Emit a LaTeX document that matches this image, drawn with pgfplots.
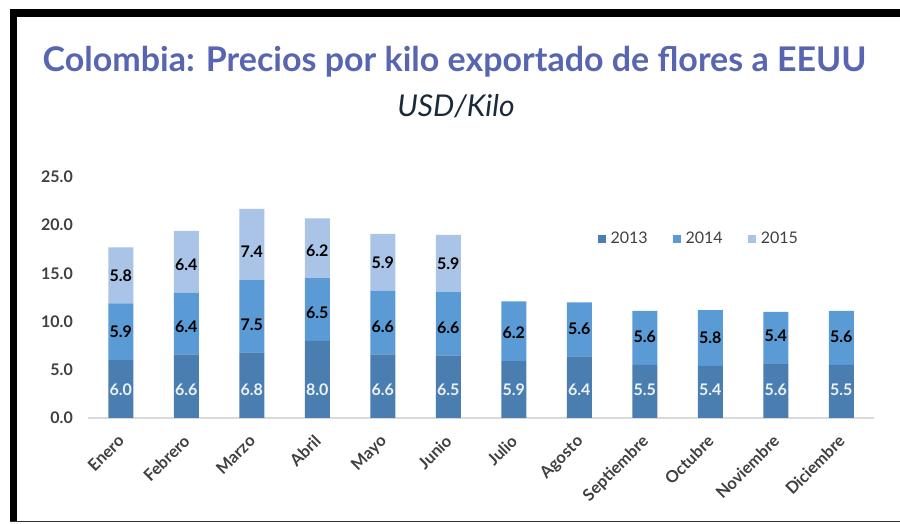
\documentclass[border=0pt]{standalone}
\usepackage{fontspec}
\setmainfont{Lato}
\usepackage{pgfplots}
\pgfplotsset{compat=1.18}
\usepackage{pgfplotstable}
\definecolor{c13}{HTML}{4A7EB0}
\definecolor{c14}{HTML}{5B9BD5}
\definecolor{c15}{HTML}{A9C4E6}
\definecolor{titlec}{HTML}{5865B0}
\definecolor{subc}{HTML}{1B2A3A}
\definecolor{tickc}{HTML}{404040}

\pgfplotstableread{
x v13 v14
0 6.0 5.9
1 6.6 6.4
2 6.8 7.5
3 8.0 6.5
4 6.6 6.6
5 6.5 6.6
6 5.9 6.2
7 6.4 5.6
8 5.5 5.6
9 5.4 5.8
10 5.6 5.4
11 5.5 5.6
}\datatable
\pgfplotstableread{
x v15
0 5.8
1 6.4
2 7.4
3 6.2
4 5.9
5 5.9
}\datatablefifteen

\begin{document}
\begin{tikzpicture}[x=1pt,y=1pt]
\useasboundingbox (0,0) rectangle (900,524);
\fill[white] (0,0) rectangle (900,524);
\fill[black] (10,507) rectangle (900,515);
\fill[black] (10,2) rectangle (17,515);
\draw[black!80, line width=1.5pt] (10,2.3) -- (900,2.3);
\node[anchor=base, inner sep=0pt, font=\fontsize{34}{40}\selectfont\bfseries, text=titlec] at (454.5,452) {Colombia: Precios por kilo exportado de flores a EEUU};
\node[anchor=base, inner sep=0pt, font=\fontsize{30}{34}\selectfont\itshape, text=subc] at (456,407) {USD/Kilo};
\begin{axis}[at={(88pt,106pt)}, anchor=south west, scale only axis,
  width=786pt, height=241pt,
  ybar stacked, bar width=25pt,
  xmin=-0.5, xmax=11.5, ymin=0, ymax=25,
  /pgf/number format/fixed,
  /pgf/number format/fixed zerofill,
  /pgf/number format/precision=1,
  /pgf/number format/assume math mode=true,
  axis x line*=bottom, axis y line*=left,
  x axis line style={draw=black!15, line width=1.5pt, -},
  y axis line style={draw=none},
  xtick style={draw=none}, ytick style={draw=none},
  ytick={0,5,10,15,20,25},
  yticklabel style={font=\fontsize{16}{18}\selectfont\bfseries, text=tickc, anchor=east, inner sep=0pt, xshift=-15pt},
  xtick={0,...,11},
  xticklabels={Enero,Febrero,Marzo,Abril,Mayo,Junio,Julio,Agosto,Septiembre,Octubre,Noviembre,Diciembre},
  xticklabel style={font=\fontsize{16.5}{18}\selectfont\bfseries, text=tickc, inner sep=0pt, xshift=-4pt, yshift=-15.5pt, rotate=45, anchor=north east},
  nodes near coords,
  point meta=explicit,
  legend columns=3,
  legend style={at={(0.777,0.743)}, anchor=center, draw=none, fill=none,
    font=\fontsize{16}{18}\selectfont, text=tickc,
    /tikz/every even column/.append style={column sep=23pt}},
  legend image code/.code={\fill[#1] (0pt,-4pt) rectangle (8pt,4pt); \path (0pt,0pt) -- (11pt,0pt);},
]
\addplot[fill=c13, draw=none,
  visualization depends on={\thisrow{v13} \as \rawv},
  nodes near coords style={font=\fontsize{16}{18}\selectfont\bfseries, text=white!90!c13, anchor=center, yshift={-\rawv*4.82pt+28pt}}]
  table[x=x, y=v13, meta=v13]{\datatable};
\addlegendentry{2013}
\addplot[fill=c14, draw=none,
  visualization depends on={\thisrow{v14} \as \rawv},
  nodes near coords style={font=\fontsize{16}{18}\selectfont\bfseries, text=black, anchor=center, yshift={-\rawv*4.82pt+28pt}}]
  table[x=x, y=v14, meta=v14]{\datatable};
\addlegendentry{2014}
\addplot[fill=c15, draw=none,
  visualization depends on={\thisrow{v15} \as \rawv},
  nodes near coords style={font=\fontsize{16}{18}\selectfont\bfseries, text=black, anchor=center, yshift={-\rawv*4.82pt+28pt}}]
  table[x=x, y=v15, meta=v15]{\datatablefifteen};
\addlegendentry{2015}
\end{axis}
\end{tikzpicture}
\end{document}
